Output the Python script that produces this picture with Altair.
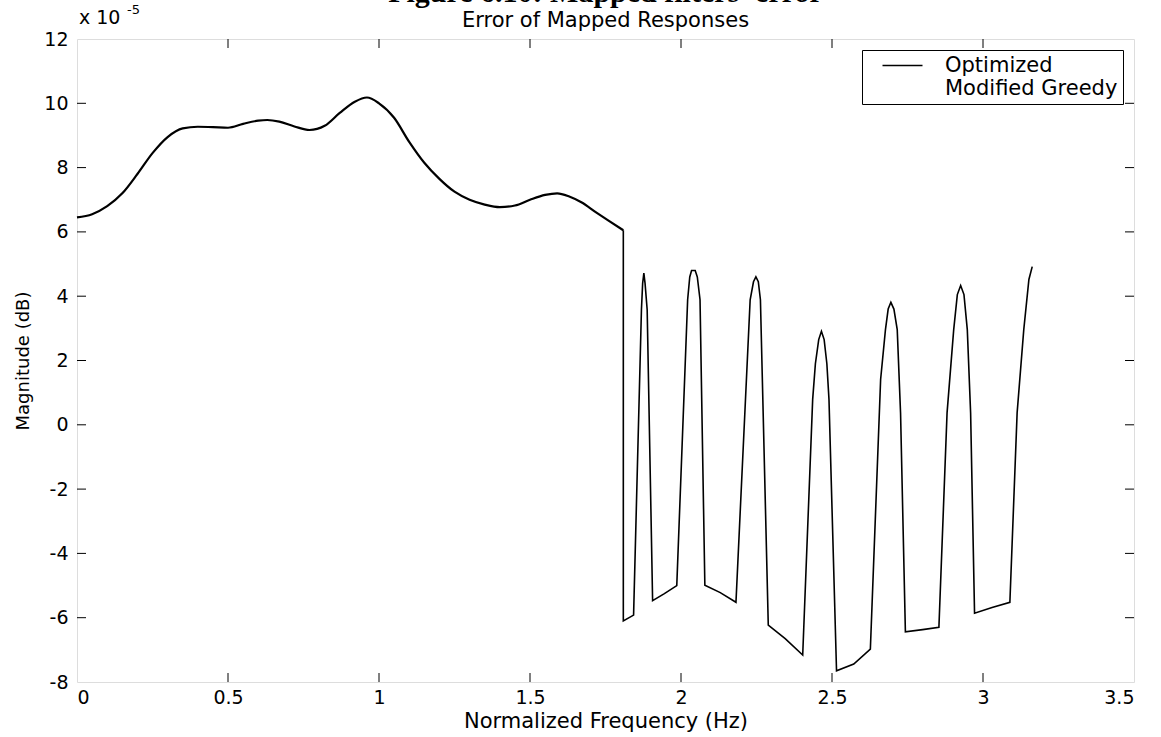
import altair as alt
import pandas as pd

# Optimized design: error in the passband (smooth part, up to the band edge)
pass_x = [0, 0.05, 0.1, 0.15, 0.2, 0.25, 0.3, 0.35, 0.4, 0.45, 0.5, 0.55, 0.6,
          0.63, 0.67, 0.72, 0.77, 0.82, 0.87, 0.92, 0.96, 1.0, 1.05, 1.1, 1.15,
          1.2, 1.25, 1.3, 1.35, 1.4, 1.45, 1.5, 1.55, 1.59, 1.63, 1.67, 1.72,
          1.76, 1.809]
pass_y = [6.45, 6.55, 6.8, 7.2, 7.8, 8.45, 8.95, 9.22, 9.27, 9.26, 9.24, 9.36,
          9.46, 9.48, 9.43, 9.28, 9.17, 9.3, 9.7, 10.05, 10.18, 10.0, 9.55, 8.8,
          8.15, 7.65, 7.25, 7.0, 6.85, 6.77, 6.82, 7.0, 7.15, 7.2, 7.1, 6.92,
          6.6, 6.35, 6.05]

# Optimized design: error in the stopband (ripple part, after the band edge)
stop_x = [1.809, 1.809, 1.843, 1.869, 1.873, 1.877, 1.881, 1.888, 1.906, 1.945,
          1.986, 2.022, 2.029, 2.035, 2.047, 2.054, 2.063, 2.079, 2.13, 2.182,
          2.229, 2.240, 2.248, 2.256, 2.263, 2.289, 2.345, 2.403, 2.436, 2.445,
          2.456, 2.465, 2.474, 2.483, 2.490, 2.515, 2.572, 2.627, 2.661, 2.677,
          2.686, 2.695, 2.705, 2.716, 2.727, 2.743, 2.80, 2.854, 2.881, 2.903,
          2.915, 2.926, 2.937, 2.948, 2.959, 2.972, 3.03, 3.089, 3.113, 3.135,
          3.152, 3.163]
stop_y = [6.05, -6.10, -5.92, 3.58, 4.4, 4.72, 4.4, 3.58, -5.47, -5.25,
          -5.00, 3.89, 4.6, 4.80, 4.80, 4.6, 3.89, -4.99, -5.22, -5.52,
          3.89, 4.45, 4.60, 4.45, 3.89, -6.23, -6.65, -7.16, 0.79, 1.9,
          2.65, 2.91, 2.65, 1.9, 0.79, -7.65, -7.44, -6.98, 1.41, 2.96,
          3.6, 3.81, 3.6, 2.96, 0.37, -6.44, -6.37, -6.30, 0.37, 2.96,
          4.05, 4.33, 4.05, 2.96, 0.37, -5.86, -5.68, -5.52, 0.37, 2.96,
          4.52, 4.92]

series_names = ["Optimized", "Modified Greedy"]
series_colors = ["black", "transparent"]

x_ticks = [0, 0.5, 1, 1.5, 2, 2.5, 3, 3.5]
y_ticks = [-8, -6, -4, -2, 0, 2, 4, 6, 8, 10, 12]
x_min, x_max = 0, 3.5
y_min, y_max = -8, 12

caption_text = "Figure 6.10: Mapped filters' error"
title_text = "Error of Mapped Responses"

W, H = 1057, 643
FONT = "DejaVu Sans"
TICK_PX = 9

pass_df = pd.DataFrame({"f": pass_x, "err": pass_y, "series": "Optimized"})
stop_df = pd.DataFrame({"f": stop_x, "err": stop_y, "series": "Optimized",
                        "i": range(len(stop_x))})

x_scale = alt.Scale(domain=[x_min, x_max], nice=False, zero=False)
y_scale = alt.Scale(domain=[y_min, y_max], nice=False, zero=False)
color_scale = alt.Scale(domain=series_names, range=series_colors)

x_axis = alt.Axis(values=x_ticks, labelExpr="toString(datum.value)", ticks=False,
                  domain=False, grid=False, labelFont=FONT, labelFontSize=19,
                  labelColor="black", labelPadding=6, title="Normalized Frequency (Hz)",
                  titleFont=FONT, titleFontSize=21, titleFontWeight="normal",
                  titleColor="black", titlePadding=3)
y_axis = alt.Axis(values=y_ticks, labelExpr="toString(datum.value)", ticks=False,
                  domain=False, grid=False, labelFont=FONT, labelFontSize=19,
                  labelColor="black", labelPadding=9, title="Magnitude (dB)",
                  titleFont=FONT, titleFontSize=18, titleFontWeight="normal",
                  titleColor="black", titlePadding=11)

# short horizontal line as the legend swatch
legend = alt.Legend(title=None, orient="none", legendX=785, legendY=11,
                    symbolType="M1,0H9", symbolSize=100, symbolStrokeWidth=1.6,
                    labelFont=FONT, labelFontSize=21, labelColor="black",
                    labelOffset=57, labelLimit=400, padding=5, rowPadding=1,
                    labelExpr="datum.label + '   '",
                    strokeColor="black", fillColor="white")

passband = alt.Chart(pass_df).mark_line(interpolate="monotone", strokeWidth=2.2).encode(
    x=alt.X("f:Q", scale=x_scale, axis=x_axis),
    y=alt.Y("err:Q", scale=y_scale, axis=y_axis),
    color=alt.Color("series:N", scale=color_scale, legend=legend),
)

stopband = alt.Chart(stop_df).mark_line(strokeWidth=1.6).encode(
    x=alt.X("f:Q", scale=x_scale),
    y=alt.Y("err:Q", scale=y_scale),
    color=alt.Color("series:N", scale=color_scale),
    order=alt.Order("i:Q"),
)

# inward tick marks on all four sides of the box
dy_tick = TICK_PX * (y_max - y_min) / H
dx_tick = TICK_PX * (x_max - x_min) / W
xt = pd.DataFrame({"t": x_ticks[1:-1]})
yt = pd.DataFrame({"t": y_ticks[1:-1]})
tick_style = dict(color="black", strokeWidth=1)
ticks_bottom = alt.Chart(xt).mark_rule(**tick_style).encode(
    x=alt.X("t:Q", scale=x_scale), y=alt.datum(y_min), y2=alt.datum(y_min + dy_tick))
ticks_top = alt.Chart(xt).mark_rule(**tick_style).encode(
    x=alt.X("t:Q", scale=x_scale), y=alt.datum(y_max), y2=alt.datum(y_max - dy_tick))
ticks_left = alt.Chart(yt).mark_rule(**tick_style).encode(
    y=alt.Y("t:Q", scale=y_scale), x=alt.datum(x_min), x2=alt.datum(x_min + dx_tick))
ticks_right = alt.Chart(yt).mark_rule(**tick_style).encode(
    y=alt.Y("t:Q", scale=y_scale), x=alt.datum(x_max), x2=alt.datum(x_max - dx_tick))

one = pd.DataFrame({"a": [0]})
x_mid = (x_min + x_max) / 2

# axis multiplier in the top-left corner
mult = alt.Chart(one).mark_text(
    align="left", baseline="alphabetic", font=FONT, fontSize=19, dx=2, dy=-15,
    color="black").encode(x=alt.datum(x_min), y=alt.datum(y_max), text=alt.value("x 10"))
mult_exp = alt.Chart(one).mark_text(
    align="left", baseline="alphabetic", font=FONT, fontSize=13, dx=50, dy=-25,
    color="black").encode(x=alt.datum(x_min), y=alt.datum(y_max), text=alt.value("-5"))

# plot title, centred over the box
title = alt.Chart(one).mark_text(
    align="center", baseline="alphabetic", font=FONT, fontSize=21, dy=-12,
    color="black").encode(x=alt.datum(x_mid), y=alt.datum(y_max),
                          text=alt.value(title_text))

# figure caption running off the top of the page
caption = alt.Chart(one).mark_text(
    align="center", baseline="alphabetic", font="Liberation Serif", fontSize=30,
    fontWeight="bold", dy=-37, color="black").encode(
    x=alt.datum(x_mid), y=alt.datum(y_max), text=alt.value(caption_text))

chart = alt.layer(
    passband, stopband, ticks_bottom, ticks_top, ticks_left, ticks_right,
    mult, mult_exp, title, caption
).properties(
    width=W, height=H,
    autosize=alt.AutoSizeParams(type="none"),
    padding={"left": 77, "top": 39, "right": 27, "bottom": 55},
).configure_view(
    stroke="black", strokeWidth=1.2
).configure(background="white")

chart.save("out.html", embed_options={"renderer": "svg", "actions": False})
